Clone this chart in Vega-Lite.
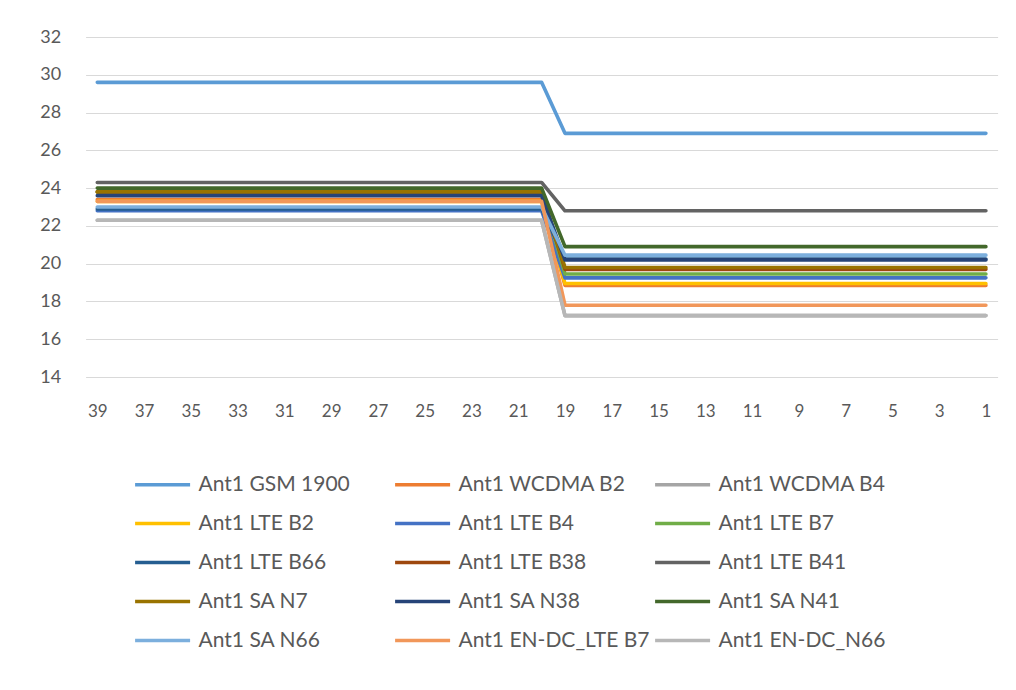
{
  "$schema": "https://vega.github.io/schema/vega-lite/v6.json",
  "autosize": {"type": "none"},
  "width": 912,
  "height": 340,
  "padding": {"left": 85.6, "top": 37, "right": 18.4, "bottom": 313},
  "background": "white",
  "config": {"view": {"stroke": null}, "font": "Lato"},
  "data": {"values": [
    {"x":39,"Ant1 GSM 1900":29.6,"Ant1 WCDMA B2":23.4,"Ant1 WCDMA B4":22.3,"Ant1 LTE B2":23.3,"Ant1 LTE B4":22.8,"Ant1 LTE B7":23.8,"Ant1 LTE B66":22.9,"Ant1 LTE B38":23.8,"Ant1 LTE B41":24.3,"Ant1 SA N7":23.8,"Ant1 SA N38":23.6,"Ant1 SA N41":24.0,"Ant1 SA N66":23.0,"Ant1 EN-DC_LTE B7":23.3,"Ant1 EN-DC_N66":22.3},
    {"x":38,"Ant1 GSM 1900":29.6,"Ant1 WCDMA B2":23.4,"Ant1 WCDMA B4":22.3,"Ant1 LTE B2":23.3,"Ant1 LTE B4":22.8,"Ant1 LTE B7":23.8,"Ant1 LTE B66":22.9,"Ant1 LTE B38":23.8,"Ant1 LTE B41":24.3,"Ant1 SA N7":23.8,"Ant1 SA N38":23.6,"Ant1 SA N41":24.0,"Ant1 SA N66":23.0,"Ant1 EN-DC_LTE B7":23.3,"Ant1 EN-DC_N66":22.3},
    {"x":37,"Ant1 GSM 1900":29.6,"Ant1 WCDMA B2":23.4,"Ant1 WCDMA B4":22.3,"Ant1 LTE B2":23.3,"Ant1 LTE B4":22.8,"Ant1 LTE B7":23.8,"Ant1 LTE B66":22.9,"Ant1 LTE B38":23.8,"Ant1 LTE B41":24.3,"Ant1 SA N7":23.8,"Ant1 SA N38":23.6,"Ant1 SA N41":24.0,"Ant1 SA N66":23.0,"Ant1 EN-DC_LTE B7":23.3,"Ant1 EN-DC_N66":22.3},
    {"x":36,"Ant1 GSM 1900":29.6,"Ant1 WCDMA B2":23.4,"Ant1 WCDMA B4":22.3,"Ant1 LTE B2":23.3,"Ant1 LTE B4":22.8,"Ant1 LTE B7":23.8,"Ant1 LTE B66":22.9,"Ant1 LTE B38":23.8,"Ant1 LTE B41":24.3,"Ant1 SA N7":23.8,"Ant1 SA N38":23.6,"Ant1 SA N41":24.0,"Ant1 SA N66":23.0,"Ant1 EN-DC_LTE B7":23.3,"Ant1 EN-DC_N66":22.3},
    {"x":35,"Ant1 GSM 1900":29.6,"Ant1 WCDMA B2":23.4,"Ant1 WCDMA B4":22.3,"Ant1 LTE B2":23.3,"Ant1 LTE B4":22.8,"Ant1 LTE B7":23.8,"Ant1 LTE B66":22.9,"Ant1 LTE B38":23.8,"Ant1 LTE B41":24.3,"Ant1 SA N7":23.8,"Ant1 SA N38":23.6,"Ant1 SA N41":24.0,"Ant1 SA N66":23.0,"Ant1 EN-DC_LTE B7":23.3,"Ant1 EN-DC_N66":22.3},
    {"x":34,"Ant1 GSM 1900":29.6,"Ant1 WCDMA B2":23.4,"Ant1 WCDMA B4":22.3,"Ant1 LTE B2":23.3,"Ant1 LTE B4":22.8,"Ant1 LTE B7":23.8,"Ant1 LTE B66":22.9,"Ant1 LTE B38":23.8,"Ant1 LTE B41":24.3,"Ant1 SA N7":23.8,"Ant1 SA N38":23.6,"Ant1 SA N41":24.0,"Ant1 SA N66":23.0,"Ant1 EN-DC_LTE B7":23.3,"Ant1 EN-DC_N66":22.3},
    {"x":33,"Ant1 GSM 1900":29.6,"Ant1 WCDMA B2":23.4,"Ant1 WCDMA B4":22.3,"Ant1 LTE B2":23.3,"Ant1 LTE B4":22.8,"Ant1 LTE B7":23.8,"Ant1 LTE B66":22.9,"Ant1 LTE B38":23.8,"Ant1 LTE B41":24.3,"Ant1 SA N7":23.8,"Ant1 SA N38":23.6,"Ant1 SA N41":24.0,"Ant1 SA N66":23.0,"Ant1 EN-DC_LTE B7":23.3,"Ant1 EN-DC_N66":22.3},
    {"x":32,"Ant1 GSM 1900":29.6,"Ant1 WCDMA B2":23.4,"Ant1 WCDMA B4":22.3,"Ant1 LTE B2":23.3,"Ant1 LTE B4":22.8,"Ant1 LTE B7":23.8,"Ant1 LTE B66":22.9,"Ant1 LTE B38":23.8,"Ant1 LTE B41":24.3,"Ant1 SA N7":23.8,"Ant1 SA N38":23.6,"Ant1 SA N41":24.0,"Ant1 SA N66":23.0,"Ant1 EN-DC_LTE B7":23.3,"Ant1 EN-DC_N66":22.3},
    {"x":31,"Ant1 GSM 1900":29.6,"Ant1 WCDMA B2":23.4,"Ant1 WCDMA B4":22.3,"Ant1 LTE B2":23.3,"Ant1 LTE B4":22.8,"Ant1 LTE B7":23.8,"Ant1 LTE B66":22.9,"Ant1 LTE B38":23.8,"Ant1 LTE B41":24.3,"Ant1 SA N7":23.8,"Ant1 SA N38":23.6,"Ant1 SA N41":24.0,"Ant1 SA N66":23.0,"Ant1 EN-DC_LTE B7":23.3,"Ant1 EN-DC_N66":22.3},
    {"x":30,"Ant1 GSM 1900":29.6,"Ant1 WCDMA B2":23.4,"Ant1 WCDMA B4":22.3,"Ant1 LTE B2":23.3,"Ant1 LTE B4":22.8,"Ant1 LTE B7":23.8,"Ant1 LTE B66":22.9,"Ant1 LTE B38":23.8,"Ant1 LTE B41":24.3,"Ant1 SA N7":23.8,"Ant1 SA N38":23.6,"Ant1 SA N41":24.0,"Ant1 SA N66":23.0,"Ant1 EN-DC_LTE B7":23.3,"Ant1 EN-DC_N66":22.3},
    {"x":29,"Ant1 GSM 1900":29.6,"Ant1 WCDMA B2":23.4,"Ant1 WCDMA B4":22.3,"Ant1 LTE B2":23.3,"Ant1 LTE B4":22.8,"Ant1 LTE B7":23.8,"Ant1 LTE B66":22.9,"Ant1 LTE B38":23.8,"Ant1 LTE B41":24.3,"Ant1 SA N7":23.8,"Ant1 SA N38":23.6,"Ant1 SA N41":24.0,"Ant1 SA N66":23.0,"Ant1 EN-DC_LTE B7":23.3,"Ant1 EN-DC_N66":22.3},
    {"x":28,"Ant1 GSM 1900":29.6,"Ant1 WCDMA B2":23.4,"Ant1 WCDMA B4":22.3,"Ant1 LTE B2":23.3,"Ant1 LTE B4":22.8,"Ant1 LTE B7":23.8,"Ant1 LTE B66":22.9,"Ant1 LTE B38":23.8,"Ant1 LTE B41":24.3,"Ant1 SA N7":23.8,"Ant1 SA N38":23.6,"Ant1 SA N41":24.0,"Ant1 SA N66":23.0,"Ant1 EN-DC_LTE B7":23.3,"Ant1 EN-DC_N66":22.3},
    {"x":27,"Ant1 GSM 1900":29.6,"Ant1 WCDMA B2":23.4,"Ant1 WCDMA B4":22.3,"Ant1 LTE B2":23.3,"Ant1 LTE B4":22.8,"Ant1 LTE B7":23.8,"Ant1 LTE B66":22.9,"Ant1 LTE B38":23.8,"Ant1 LTE B41":24.3,"Ant1 SA N7":23.8,"Ant1 SA N38":23.6,"Ant1 SA N41":24.0,"Ant1 SA N66":23.0,"Ant1 EN-DC_LTE B7":23.3,"Ant1 EN-DC_N66":22.3},
    {"x":26,"Ant1 GSM 1900":29.6,"Ant1 WCDMA B2":23.4,"Ant1 WCDMA B4":22.3,"Ant1 LTE B2":23.3,"Ant1 LTE B4":22.8,"Ant1 LTE B7":23.8,"Ant1 LTE B66":22.9,"Ant1 LTE B38":23.8,"Ant1 LTE B41":24.3,"Ant1 SA N7":23.8,"Ant1 SA N38":23.6,"Ant1 SA N41":24.0,"Ant1 SA N66":23.0,"Ant1 EN-DC_LTE B7":23.3,"Ant1 EN-DC_N66":22.3},
    {"x":25,"Ant1 GSM 1900":29.6,"Ant1 WCDMA B2":23.4,"Ant1 WCDMA B4":22.3,"Ant1 LTE B2":23.3,"Ant1 LTE B4":22.8,"Ant1 LTE B7":23.8,"Ant1 LTE B66":22.9,"Ant1 LTE B38":23.8,"Ant1 LTE B41":24.3,"Ant1 SA N7":23.8,"Ant1 SA N38":23.6,"Ant1 SA N41":24.0,"Ant1 SA N66":23.0,"Ant1 EN-DC_LTE B7":23.3,"Ant1 EN-DC_N66":22.3},
    {"x":24,"Ant1 GSM 1900":29.6,"Ant1 WCDMA B2":23.4,"Ant1 WCDMA B4":22.3,"Ant1 LTE B2":23.3,"Ant1 LTE B4":22.8,"Ant1 LTE B7":23.8,"Ant1 LTE B66":22.9,"Ant1 LTE B38":23.8,"Ant1 LTE B41":24.3,"Ant1 SA N7":23.8,"Ant1 SA N38":23.6,"Ant1 SA N41":24.0,"Ant1 SA N66":23.0,"Ant1 EN-DC_LTE B7":23.3,"Ant1 EN-DC_N66":22.3},
    {"x":23,"Ant1 GSM 1900":29.6,"Ant1 WCDMA B2":23.4,"Ant1 WCDMA B4":22.3,"Ant1 LTE B2":23.3,"Ant1 LTE B4":22.8,"Ant1 LTE B7":23.8,"Ant1 LTE B66":22.9,"Ant1 LTE B38":23.8,"Ant1 LTE B41":24.3,"Ant1 SA N7":23.8,"Ant1 SA N38":23.6,"Ant1 SA N41":24.0,"Ant1 SA N66":23.0,"Ant1 EN-DC_LTE B7":23.3,"Ant1 EN-DC_N66":22.3},
    {"x":22,"Ant1 GSM 1900":29.6,"Ant1 WCDMA B2":23.4,"Ant1 WCDMA B4":22.3,"Ant1 LTE B2":23.3,"Ant1 LTE B4":22.8,"Ant1 LTE B7":23.8,"Ant1 LTE B66":22.9,"Ant1 LTE B38":23.8,"Ant1 LTE B41":24.3,"Ant1 SA N7":23.8,"Ant1 SA N38":23.6,"Ant1 SA N41":24.0,"Ant1 SA N66":23.0,"Ant1 EN-DC_LTE B7":23.3,"Ant1 EN-DC_N66":22.3},
    {"x":21,"Ant1 GSM 1900":29.6,"Ant1 WCDMA B2":23.4,"Ant1 WCDMA B4":22.3,"Ant1 LTE B2":23.3,"Ant1 LTE B4":22.8,"Ant1 LTE B7":23.8,"Ant1 LTE B66":22.9,"Ant1 LTE B38":23.8,"Ant1 LTE B41":24.3,"Ant1 SA N7":23.8,"Ant1 SA N38":23.6,"Ant1 SA N41":24.0,"Ant1 SA N66":23.0,"Ant1 EN-DC_LTE B7":23.3,"Ant1 EN-DC_N66":22.3},
    {"x":20,"Ant1 GSM 1900":29.6,"Ant1 WCDMA B2":23.4,"Ant1 WCDMA B4":22.3,"Ant1 LTE B2":23.3,"Ant1 LTE B4":22.8,"Ant1 LTE B7":23.8,"Ant1 LTE B66":22.9,"Ant1 LTE B38":23.8,"Ant1 LTE B41":24.3,"Ant1 SA N7":23.8,"Ant1 SA N38":23.6,"Ant1 SA N41":24.0,"Ant1 SA N66":23.0,"Ant1 EN-DC_LTE B7":23.3,"Ant1 EN-DC_N66":22.3},
    {"x":19,"Ant1 GSM 1900":26.9,"Ant1 WCDMA B2":18.85,"Ant1 WCDMA B4":17.25,"Ant1 LTE B2":18.95,"Ant1 LTE B4":19.25,"Ant1 LTE B7":19.45,"Ant1 LTE B66":20.25,"Ant1 LTE B38":19.7,"Ant1 LTE B41":22.8,"Ant1 SA N7":19.8,"Ant1 SA N38":20.2,"Ant1 SA N41":20.9,"Ant1 SA N66":20.45,"Ant1 EN-DC_LTE B7":17.8,"Ant1 EN-DC_N66":17.25},
    {"x":18,"Ant1 GSM 1900":26.9,"Ant1 WCDMA B2":18.85,"Ant1 WCDMA B4":17.25,"Ant1 LTE B2":18.95,"Ant1 LTE B4":19.25,"Ant1 LTE B7":19.45,"Ant1 LTE B66":20.25,"Ant1 LTE B38":19.7,"Ant1 LTE B41":22.8,"Ant1 SA N7":19.8,"Ant1 SA N38":20.2,"Ant1 SA N41":20.9,"Ant1 SA N66":20.45,"Ant1 EN-DC_LTE B7":17.8,"Ant1 EN-DC_N66":17.25},
    {"x":17,"Ant1 GSM 1900":26.9,"Ant1 WCDMA B2":18.85,"Ant1 WCDMA B4":17.25,"Ant1 LTE B2":18.95,"Ant1 LTE B4":19.25,"Ant1 LTE B7":19.45,"Ant1 LTE B66":20.25,"Ant1 LTE B38":19.7,"Ant1 LTE B41":22.8,"Ant1 SA N7":19.8,"Ant1 SA N38":20.2,"Ant1 SA N41":20.9,"Ant1 SA N66":20.45,"Ant1 EN-DC_LTE B7":17.8,"Ant1 EN-DC_N66":17.25},
    {"x":16,"Ant1 GSM 1900":26.9,"Ant1 WCDMA B2":18.85,"Ant1 WCDMA B4":17.25,"Ant1 LTE B2":18.95,"Ant1 LTE B4":19.25,"Ant1 LTE B7":19.45,"Ant1 LTE B66":20.25,"Ant1 LTE B38":19.7,"Ant1 LTE B41":22.8,"Ant1 SA N7":19.8,"Ant1 SA N38":20.2,"Ant1 SA N41":20.9,"Ant1 SA N66":20.45,"Ant1 EN-DC_LTE B7":17.8,"Ant1 EN-DC_N66":17.25},
    {"x":15,"Ant1 GSM 1900":26.9,"Ant1 WCDMA B2":18.85,"Ant1 WCDMA B4":17.25,"Ant1 LTE B2":18.95,"Ant1 LTE B4":19.25,"Ant1 LTE B7":19.45,"Ant1 LTE B66":20.25,"Ant1 LTE B38":19.7,"Ant1 LTE B41":22.8,"Ant1 SA N7":19.8,"Ant1 SA N38":20.2,"Ant1 SA N41":20.9,"Ant1 SA N66":20.45,"Ant1 EN-DC_LTE B7":17.8,"Ant1 EN-DC_N66":17.25},
    {"x":14,"Ant1 GSM 1900":26.9,"Ant1 WCDMA B2":18.85,"Ant1 WCDMA B4":17.25,"Ant1 LTE B2":18.95,"Ant1 LTE B4":19.25,"Ant1 LTE B7":19.45,"Ant1 LTE B66":20.25,"Ant1 LTE B38":19.7,"Ant1 LTE B41":22.8,"Ant1 SA N7":19.8,"Ant1 SA N38":20.2,"Ant1 SA N41":20.9,"Ant1 SA N66":20.45,"Ant1 EN-DC_LTE B7":17.8,"Ant1 EN-DC_N66":17.25},
    {"x":13,"Ant1 GSM 1900":26.9,"Ant1 WCDMA B2":18.85,"Ant1 WCDMA B4":17.25,"Ant1 LTE B2":18.95,"Ant1 LTE B4":19.25,"Ant1 LTE B7":19.45,"Ant1 LTE B66":20.25,"Ant1 LTE B38":19.7,"Ant1 LTE B41":22.8,"Ant1 SA N7":19.8,"Ant1 SA N38":20.2,"Ant1 SA N41":20.9,"Ant1 SA N66":20.45,"Ant1 EN-DC_LTE B7":17.8,"Ant1 EN-DC_N66":17.25},
    {"x":12,"Ant1 GSM 1900":26.9,"Ant1 WCDMA B2":18.85,"Ant1 WCDMA B4":17.25,"Ant1 LTE B2":18.95,"Ant1 LTE B4":19.25,"Ant1 LTE B7":19.45,"Ant1 LTE B66":20.25,"Ant1 LTE B38":19.7,"Ant1 LTE B41":22.8,"Ant1 SA N7":19.8,"Ant1 SA N38":20.2,"Ant1 SA N41":20.9,"Ant1 SA N66":20.45,"Ant1 EN-DC_LTE B7":17.8,"Ant1 EN-DC_N66":17.25},
    {"x":11,"Ant1 GSM 1900":26.9,"Ant1 WCDMA B2":18.85,"Ant1 WCDMA B4":17.25,"Ant1 LTE B2":18.95,"Ant1 LTE B4":19.25,"Ant1 LTE B7":19.45,"Ant1 LTE B66":20.25,"Ant1 LTE B38":19.7,"Ant1 LTE B41":22.8,"Ant1 SA N7":19.8,"Ant1 SA N38":20.2,"Ant1 SA N41":20.9,"Ant1 SA N66":20.45,"Ant1 EN-DC_LTE B7":17.8,"Ant1 EN-DC_N66":17.25},
    {"x":10,"Ant1 GSM 1900":26.9,"Ant1 WCDMA B2":18.85,"Ant1 WCDMA B4":17.25,"Ant1 LTE B2":18.95,"Ant1 LTE B4":19.25,"Ant1 LTE B7":19.45,"Ant1 LTE B66":20.25,"Ant1 LTE B38":19.7,"Ant1 LTE B41":22.8,"Ant1 SA N7":19.8,"Ant1 SA N38":20.2,"Ant1 SA N41":20.9,"Ant1 SA N66":20.45,"Ant1 EN-DC_LTE B7":17.8,"Ant1 EN-DC_N66":17.25},
    {"x":9,"Ant1 GSM 1900":26.9,"Ant1 WCDMA B2":18.85,"Ant1 WCDMA B4":17.25,"Ant1 LTE B2":18.95,"Ant1 LTE B4":19.25,"Ant1 LTE B7":19.45,"Ant1 LTE B66":20.25,"Ant1 LTE B38":19.7,"Ant1 LTE B41":22.8,"Ant1 SA N7":19.8,"Ant1 SA N38":20.2,"Ant1 SA N41":20.9,"Ant1 SA N66":20.45,"Ant1 EN-DC_LTE B7":17.8,"Ant1 EN-DC_N66":17.25},
    {"x":8,"Ant1 GSM 1900":26.9,"Ant1 WCDMA B2":18.85,"Ant1 WCDMA B4":17.25,"Ant1 LTE B2":18.95,"Ant1 LTE B4":19.25,"Ant1 LTE B7":19.45,"Ant1 LTE B66":20.25,"Ant1 LTE B38":19.7,"Ant1 LTE B41":22.8,"Ant1 SA N7":19.8,"Ant1 SA N38":20.2,"Ant1 SA N41":20.9,"Ant1 SA N66":20.45,"Ant1 EN-DC_LTE B7":17.8,"Ant1 EN-DC_N66":17.25},
    {"x":7,"Ant1 GSM 1900":26.9,"Ant1 WCDMA B2":18.85,"Ant1 WCDMA B4":17.25,"Ant1 LTE B2":18.95,"Ant1 LTE B4":19.25,"Ant1 LTE B7":19.45,"Ant1 LTE B66":20.25,"Ant1 LTE B38":19.7,"Ant1 LTE B41":22.8,"Ant1 SA N7":19.8,"Ant1 SA N38":20.2,"Ant1 SA N41":20.9,"Ant1 SA N66":20.45,"Ant1 EN-DC_LTE B7":17.8,"Ant1 EN-DC_N66":17.25},
    {"x":6,"Ant1 GSM 1900":26.9,"Ant1 WCDMA B2":18.85,"Ant1 WCDMA B4":17.25,"Ant1 LTE B2":18.95,"Ant1 LTE B4":19.25,"Ant1 LTE B7":19.45,"Ant1 LTE B66":20.25,"Ant1 LTE B38":19.7,"Ant1 LTE B41":22.8,"Ant1 SA N7":19.8,"Ant1 SA N38":20.2,"Ant1 SA N41":20.9,"Ant1 SA N66":20.45,"Ant1 EN-DC_LTE B7":17.8,"Ant1 EN-DC_N66":17.25},
    {"x":5,"Ant1 GSM 1900":26.9,"Ant1 WCDMA B2":18.85,"Ant1 WCDMA B4":17.25,"Ant1 LTE B2":18.95,"Ant1 LTE B4":19.25,"Ant1 LTE B7":19.45,"Ant1 LTE B66":20.25,"Ant1 LTE B38":19.7,"Ant1 LTE B41":22.8,"Ant1 SA N7":19.8,"Ant1 SA N38":20.2,"Ant1 SA N41":20.9,"Ant1 SA N66":20.45,"Ant1 EN-DC_LTE B7":17.8,"Ant1 EN-DC_N66":17.25},
    {"x":4,"Ant1 GSM 1900":26.9,"Ant1 WCDMA B2":18.85,"Ant1 WCDMA B4":17.25,"Ant1 LTE B2":18.95,"Ant1 LTE B4":19.25,"Ant1 LTE B7":19.45,"Ant1 LTE B66":20.25,"Ant1 LTE B38":19.7,"Ant1 LTE B41":22.8,"Ant1 SA N7":19.8,"Ant1 SA N38":20.2,"Ant1 SA N41":20.9,"Ant1 SA N66":20.45,"Ant1 EN-DC_LTE B7":17.8,"Ant1 EN-DC_N66":17.25},
    {"x":3,"Ant1 GSM 1900":26.9,"Ant1 WCDMA B2":18.85,"Ant1 WCDMA B4":17.25,"Ant1 LTE B2":18.95,"Ant1 LTE B4":19.25,"Ant1 LTE B7":19.45,"Ant1 LTE B66":20.25,"Ant1 LTE B38":19.7,"Ant1 LTE B41":22.8,"Ant1 SA N7":19.8,"Ant1 SA N38":20.2,"Ant1 SA N41":20.9,"Ant1 SA N66":20.45,"Ant1 EN-DC_LTE B7":17.8,"Ant1 EN-DC_N66":17.25},
    {"x":2,"Ant1 GSM 1900":26.9,"Ant1 WCDMA B2":18.85,"Ant1 WCDMA B4":17.25,"Ant1 LTE B2":18.95,"Ant1 LTE B4":19.25,"Ant1 LTE B7":19.45,"Ant1 LTE B66":20.25,"Ant1 LTE B38":19.7,"Ant1 LTE B41":22.8,"Ant1 SA N7":19.8,"Ant1 SA N38":20.2,"Ant1 SA N41":20.9,"Ant1 SA N66":20.45,"Ant1 EN-DC_LTE B7":17.8,"Ant1 EN-DC_N66":17.25},
    {"x":1,"Ant1 GSM 1900":26.9,"Ant1 WCDMA B2":18.85,"Ant1 WCDMA B4":17.25,"Ant1 LTE B2":18.95,"Ant1 LTE B4":19.25,"Ant1 LTE B7":19.45,"Ant1 LTE B66":20.25,"Ant1 LTE B38":19.7,"Ant1 LTE B41":22.8,"Ant1 SA N7":19.8,"Ant1 SA N38":20.2,"Ant1 SA N41":20.9,"Ant1 SA N66":20.45,"Ant1 EN-DC_LTE B7":17.8,"Ant1 EN-DC_N66":17.25}
  ]},
  "transform": [
    {"fold": ["Ant1 GSM 1900","Ant1 WCDMA B2","Ant1 WCDMA B4","Ant1 LTE B2","Ant1 LTE B4","Ant1 LTE B7","Ant1 LTE B66","Ant1 LTE B38","Ant1 LTE B41","Ant1 SA N7","Ant1 SA N38","Ant1 SA N41","Ant1 SA N66","Ant1 EN-DC_LTE B7","Ant1 EN-DC_N66"], "as": ["series", "value"]}
  ],
  "mark": {"type": "line", "strokeWidth": 3.6, "strokeCap": "round", "strokeJoin": "round"},
  "encoding": {
    "x": {
      "field": "x", "type": "quantitative",
      "scale": {"domain": [39.5, 0.5], "nice": false, "zero": false},
      "axis": {"values": [39,37,35,33,31,29,27,25,23,21,19,17,15,13,11,9,7,5,3,1], "grid": false, "domain": false, "ticks": false, "labelPadding": 26, "labelFontSize": 17, "labelColor": "#595959", "labelFont": "Lato", "title": null}
    },
    "y": {
      "field": "value", "type": "quantitative",
      "scale": {"domain": [14, 32], "nice": false, "zero": false},
      "axis": {"values": [14,16,18,20,22,24,26,28,30,32], "grid": true, "gridColor": "#D9D9D9", "gridWidth": 1, "domain": false, "ticks": false, "labelPadding": 25, "labelFontSize": 18, "labelColor": "#595959", "labelFont": "Lato", "title": null}
    },
    "color": {
      "field": "series", "type": "nominal",
      "scale": {
        "domain": ["Ant1 GSM 1900","Ant1 WCDMA B2","Ant1 WCDMA B4","Ant1 LTE B2","Ant1 LTE B4","Ant1 LTE B7","Ant1 LTE B66","Ant1 LTE B38","Ant1 LTE B41","Ant1 SA N7","Ant1 SA N38","Ant1 SA N41","Ant1 SA N66","Ant1 EN-DC_LTE B7","Ant1 EN-DC_N66"],
        "range": ["#5B9BD5","#ED7D31","#A5A5A5","#FFC000","#4472C4","#70AD47","#255E91","#9E480E","#636363","#997300","#264478","#43682B","#7CAFDD","#F1975A","#B7B7B7"]
      },
      "legend": {
        "orient": "none", "legendX": 44, "legendY": 437,
        "direction": "horizontal", "columns": 3, "gridAlign": "all",
        "columnPadding": -3, "rowPadding": 17,
        "symbolType": "M-1,0H10", "symbolSize": 100, "symbolStrokeWidth": 3.5,
        "labelFontSize": 21, "labelColor": "#595959", "labelFont": "Lato", "labelOffset": 48, "labelLimit": 400,
        "title": null
      }
    }
  }
}
